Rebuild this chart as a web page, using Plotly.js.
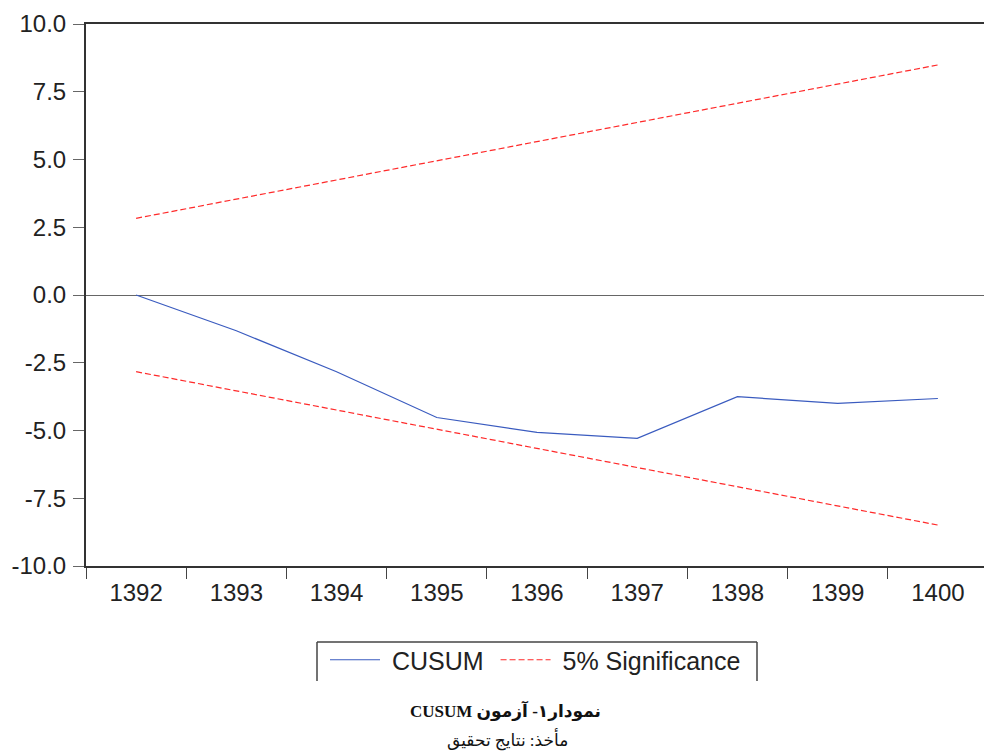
<!DOCTYPE html>
<html><head><meta charset="utf-8">
<script src="https://cdn.plot.ly/plotly-3.0.1.min.js"></script>
<style>html,body{margin:0;padding:0;overflow:hidden;background:#fff;}</style>
</head><body><div id="chart"></div>
<script>
const years = [1392, 1393, 1394, 1395, 1396, 1397, 1398, 1399, 1400];
const cusum = [0.0, -1.32, -2.83, -4.52, -5.07, -5.29, -3.75, -4.0, -3.82];
const upper5 = [2.83, 3.54, 4.24, 4.95, 5.66, 6.36, 7.07, 7.78, 8.49];
const lower5 = [-2.83, -3.54, -4.24, -4.95, -5.66, -6.36, -7.07, -7.78, -8.49];
const xTickLabels = ['1392', '1393', '1394', '1395', '1396', '1397', '1398', '1399', '1400'];
const yTickVals = [-10, -7.5, -5, -2.5, 0, 2.5, 5, 7.5, 10];
const yTickLabels = ['-10.0', '-7.5', '-5.0', '-2.5', '0.0', '2.5', '5.0', '7.5', '10.0'];
const seriesNames = ['CUSUM', '5% Significance'];
const captionTitle = 'نمودار۱- آزمون CUSUM';
const captionSource = 'مأخذ: نتایج تحقیق';

const W = 992, H = 753;
const L = 86, T = 24, R = 4, B = 187;
const pw = W - L - R, ph = H - T - B;
const px = x => (x - L) / pw;
const py = y => (H - B - y) / ph;
const NB = '\u00A0';

const traces = [
  {x: years, y: cusum, type: 'scatter', mode: 'lines', name: NB + seriesNames[0] + NB,
   line: {color: '#3a5bbf', width: 1.2}},
  {x: years, y: upper5, type: 'scatter', mode: 'lines', name: NB + seriesNames[1],
   line: {color: '#ff2a2a', width: 1.2, dash: '6px,3px'}},
  {x: years, y: lower5, type: 'scatter', mode: 'lines', name: seriesNames[1],
   showlegend: false, line: {color: '#ff2a2a', width: 1.2, dash: '6px,3px'}}
];

const layout = {
  width: W, height: H,
  margin: {l: L, r: R, t: T, b: B},
  paper_bgcolor: '#fff', plot_bgcolor: '#fff',
  font: {family: 'Liberation Sans, Arial, sans-serif', size: 24, color: '#222'},
  showlegend: true,
  xaxis: {
    type: 'linear', range: [1391.5, 1400.5], fixedrange: true,
    tickvals: years, ticktext: xTickLabels, ticks: '',
    showgrid: false, zeroline: false,
    showline: true, linecolor: '#333', linewidth: 2, mirror: true,
    minor: {ticks: 'outside', tick0: 1391.5, dtick: 1, ticklen: 11, tickcolor: '#444', tickwidth: 1, showgrid: false},
    tickfont: {size: 24, color: '#222'}, ticklabelstandoff: 4
  },
  yaxis: {
    range: [-10, 10], tickvals: yTickVals, ticktext: yTickLabels,
    ticks: 'outside', ticklen: 11, tickcolor: '#666', tickwidth: 1,
    showgrid: false, zeroline: true, zerolinecolor: '#666', zerolinewidth: 1,
    showline: true, linecolor: '#333', linewidth: 2,
    tickfont: {size: 24, color: '#222'}, ticklabelstandoff: 2
  },
  legend: {
    orientation: 'h', x: px(325), xanchor: 'left', y: py(637), yanchor: 'top',
    bgcolor: 'rgba(0,0,0,0)', borderwidth: 0, itemwidth: 50,
    font: {size: 25, color: '#222'}
  },
  shapes: [
    {type: 'line', xref: 'paper', yref: 'paper', x0: px(317), x1: px(317), y0: py(642), y1: py(681), line: {color: '#444', width: 1.5}},
    {type: 'line', xref: 'paper', yref: 'paper', x0: px(317), x1: px(757), y0: py(642), y1: py(642), line: {color: '#444', width: 1.5}},
    {type: 'line', xref: 'paper', yref: 'paper', x0: px(757), x1: px(757), y0: py(642), y1: py(681), line: {color: '#444', width: 1.5}}
  ],
  annotations: [
    {xref: 'paper', yref: 'paper', x: px(505), y: py(711), xanchor: 'center', yanchor: 'middle', showarrow: false,
     text: '<b>\u202B' + captionTitle + '\u202C</b>', font: {family: 'Liberation Serif, DejaVu Serif, DejaVu Sans, serif', size: 17, color: '#111'}},
    {xref: 'paper', yref: 'paper', x: px(507), y: py(740), xanchor: 'center', yanchor: 'middle', showarrow: false,
     text: '\u202B' + captionSource + '\u202C', font: {family: 'Liberation Serif, DejaVu Sans, serif', size: 17, color: '#111'}}
  ]
};

Plotly.newPlot('chart', traces, layout, {displayModeBar: false, staticPlot: true});
</script>
</body></html>
